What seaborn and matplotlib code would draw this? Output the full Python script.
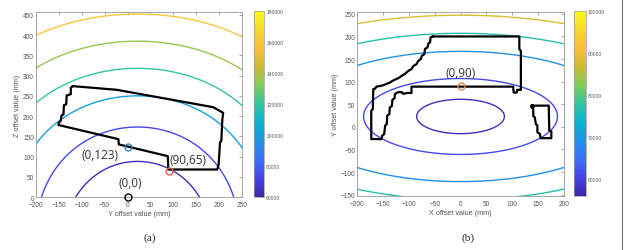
import numpy as np
import matplotlib
matplotlib.use("Agg")
import matplotlib.pyplot as plt
import seaborn as sns
from matplotlib.colors import LinearSegmentedColormap, Normalize
from matplotlib.cm import ScalarMappable
from matplotlib.lines import Line2D

sns.set_style("white")
plt.rcParams['font.family'] = ['Liberation Sans', 'DejaVu Sans']

# parula-like colour map
parula = LinearSegmentedColormap.from_list("parula", [
    "#3e26a8", "#4743e8", "#3e6ffd", "#1f94e8", "#08b4d0", "#31c69f",
    "#81cc59", "#cdbb2f", "#fdbd3d", "#f5d92b", "#f9fb15"])

# ---- panel (a): Y/Z offsets ----
arc_top_a = [88, 173, 250, 318, 385, 452]          # apex height of each contour (mm)
arc_value_a = [64000, 73000, 100000, 120000, 135000, 160000]
region_a_y = [-120, -124, -124, -133, -134, -139, -140, -144, -146, -150, -151,
              -20, -19, 88, 89, 196, 199, 202, 205, 207, 209, 187, -24, -120]
region_a_z = [274, 270, 254, 251, 229, 227, 204, 202, 188, 184, 178,
              143, 130, 101, 68, 68, 80, 134, 139, 190, 208, 222, 265, 274]
points_a = [(0, 0), (0, 123), (90, 65)]
point_colors_a = ["black", "#3a7fc4", "#e0604a"]
labels_a = ["(0,0)", "(0,123)", "(90,65)"]
label_pos_a = [(5, 36), (-61, 105), (133, 93)]

# ---- panel (b): X/Y offsets ----
ellipse_top_b = [61, 107, 167, 207, 247]
ellipse_value_b = [57500, 61000, 69000, 76500, 88000]
region_b_x = [-54, -58, -59, -62, -64, -69, -70, -75, -77, -82, -85, -91, -95, -101,
              -108, -114, -120, -130, -137, -146, -153, -163, -166, -169, -170, -173,
              -173, -153, -152, -148, -146, -143, -142, -138, -137, -133, -132, -128,
              -127, -122, -120, -114, -111, -104, -95, -95, 102, 103, 109, 110, 117,
              117, 114, 114, -54]
region_b_y = [200, 198, 187, 185, 176, 172, 161, 157, 150, 146, 139, 135, 128, 124,
              117, 113, 108, 103, 98, 94, 91, 89, 84, 84, 39, 36,
              -27, -27, -20, -16, 3, 6, 25, 28, 43, 46, 60, 63,
              73, 76, 77, 77, 73, 75, 75, 89, 89, 76, 76, 82, 82,
              168, 172, 200, 200]
side_b_x = [138, 171, 172, 176, 176, 155, 154, 149, 149, 146, 144, 141, 141, 139, 138]
side_b_y = [47, 47, -8, -10, -25, -25, -16, -12, 3, 6, 21, 24, 39, 42, 47]

fig = plt.figure(figsize=(6.26, 2.51), dpi=100)
ax_a = fig.add_axes([0.0575, 0.211, 0.329, 0.737])
cax_a = fig.add_axes([0.4058, 0.211, 0.016, 0.741])
ax_b = fig.add_axes([0.5708, 0.215, 0.3297, 0.733])
cax_b = fig.add_axes([0.917, 0.215, 0.0187, 0.737])

# contour fields (a smooth bowl fitted to the drawn curves)
norm_a = Normalize(60000, 180000)
gx, gy = np.meshgrid(np.linspace(-210, 260, 400), np.linspace(-10, 470, 400))
s_a, t_a, u_a, x0_a = 0.5625, 157.6, -8e-4, 22
field_a = (gx - x0_a) ** 2 * (1 + u_a * gy) + s_a * gy ** 2 + t_a * gy
lev_a = [s_a * h ** 2 + t_a * h for h in arc_top_a]
ax_a.contour(gx, gy, field_a, levels=lev_a,
             colors=[parula(norm_a(v)) for v in arc_value_a], linewidths=1.0)

norm_b = Normalize(56000, 100000)
hx, hy = np.meshgrid(np.linspace(-210, 210, 400), np.linspace(-170, 270, 400))
s_b, yc_b = 5.0, 23
field_b = hx ** 2 + s_b * (hy - yc_b) ** 2
lev_b = [s_b * (h - yc_b) ** 2 for h in ellipse_top_b]
ax_b.contour(hx, hy, field_b, levels=lev_b,
             colors=[parula(norm_b(v)) for v in ellipse_value_b], linewidths=1.0)

# outlines
sns.lineplot(x=region_a_y, y=region_a_z, sort=False, estimator=None,
             color="black", lw=1.6, ax=ax_a)
sns.lineplot(x=region_b_x, y=region_b_y, sort=False, estimator=None,
             color="black", lw=1.6, ax=ax_b)
sns.lineplot(x=side_b_x, y=side_b_y, sort=False, estimator=None,
             color="black", lw=1.6, ax=ax_b)
ax_b.plot(side_b_x[0], side_b_y[0], "o", color="black", ms=2.5)

txt_kw = dict(ha="center", va="center", fontsize=8.5, color="#333333",
              family=["Open Sans", "DejaVu Sans"])
for (px, py), c in zip(points_a, point_colors_a):
    ax_a.plot(px, py, "o", mfc="none", mec=c, ms=5, mew=1.0, clip_on=False, zorder=5)
for lab, (lx, ly) in zip(labels_a, label_pos_a):
    ax_a.text(lx, ly, lab, **txt_kw)
ax_b.plot(0, 90, "o", mfc="none", mec="#e8844a", ms=5, mew=1.0, zorder=5)
ax_b.text(0, 120, "(0,90)", **txt_kw)

for ax, xl, yl, xt, yt in [
        (ax_a, (-200, 250), (0, 457), np.arange(-200, 251, 50), np.arange(0, 451, 50)),
        (ax_b, (-200, 200), (-153, 254), np.arange(-200, 201, 50), np.arange(-150, 251, 50))]:
    ax.set_xlim(*xl)
    ax.set_ylim(*yl)
    ax.set_xticks(xt)
    ax.set_yticks(yt)
    ax.tick_params(direction="in", length=2, width=0.5, color="#888888",
                   labelsize=4.7, labelcolor="#555555", top=True, right=True)
    ax.tick_params(axis="x", pad=2.8)
    ax.tick_params(axis="y", pad=1.5)
    for sp in ax.spines.values():
        sp.set_color("#999999")
        sp.set_linewidth(0.6)

lab_kw = dict(fontsize=5.2, color="#555555", labelpad=1.5)
ax_a.set_xlabel("Y offset value (mm)", **lab_kw)
ax_a.set_ylabel("Z offset value (mm)", **lab_kw)
ax_b.set_xlabel("X offset value (mm)", **lab_kw)
ax_b.set_ylabel("Y offset value (mm)", **lab_kw)

for cax, nrm, ticks in [(cax_a, norm_a, np.arange(60000, 180001, 20000)),
                        (cax_b, norm_b, np.arange(60000, 100001, 10000))]:
    cb = fig.colorbar(ScalarMappable(norm=nrm, cmap=parula), cax=cax, ticks=ticks)
    cb.outline.set_edgecolor("#999999")
    cb.outline.set_linewidth(0.5)
    cax.tick_params(direction="in", length=1.5, width=0.4, color="#888888",
                    labelsize=3.6, labelcolor="#555555", pad=1.5)

fig.text(150 / 626, 0.052, "(a)", ha="center", va="center", fontsize=8.2,
         family="Liberation Serif", color="#222222")
fig.text(468 / 626, 0.052, "(b)", ha="center", va="center", fontsize=8.2,
         family="Liberation Serif", color="#222222")
fig.add_artist(Line2D([622 / 626, 622 / 626], [0, 1], transform=fig.transFigure,
                      color="#777777", lw=0.8))

fig.savefig("out.png", dpi=100)
